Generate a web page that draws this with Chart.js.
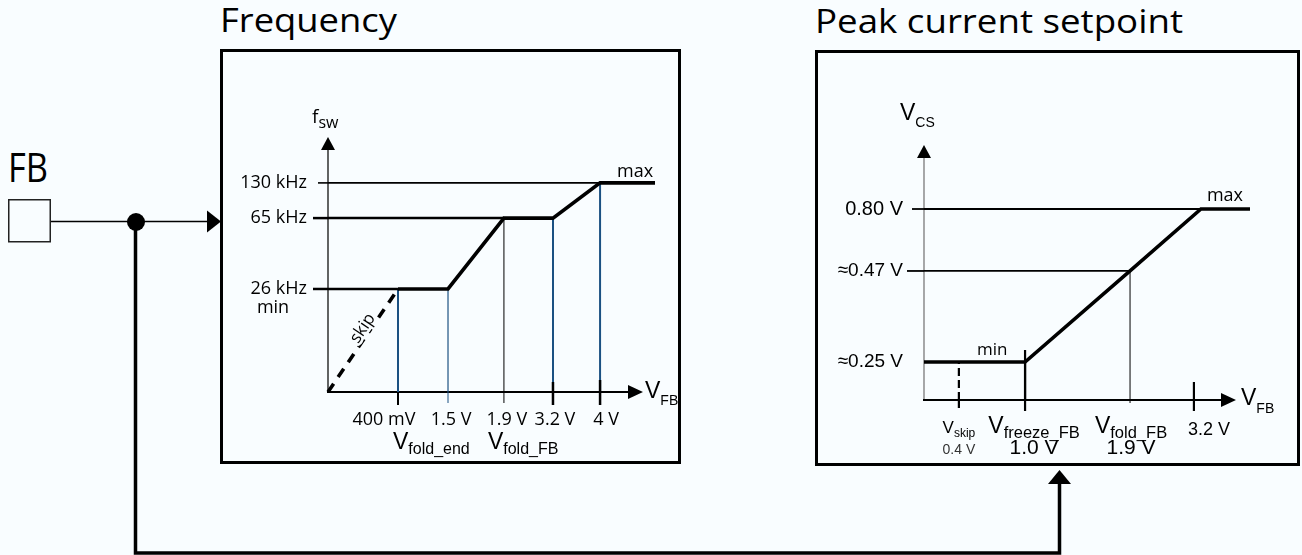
<!DOCTYPE html>
<html>
<head>
    <title>FB pin: switching frequency and peak current setpoint</title>
    <script src="https://cdn.jsdelivr.net/npm/chart.js@4/dist/chart.umd.min.js"></script>
    <style>
        body { margin: 0; background: #f9fdff; }
        #frame { position: absolute; left: 0; top: 0; }
        #frame text { font-family: "Open Sans", sans-serif; fill: #000; }
        .box { fill: none; stroke: #000; stroke-width: 3; }
        canvas { position: absolute; }
        #freq { left: 223px; top: 52px; }
        #vcs { left: 818px; top: 54px; }
    </style>
</head>
<body>
    <svg id="frame" width="1302" height="555">
        <text x="220" y="32" font-size="32" textLength="177" lengthAdjust="spacingAndGlyphs">Frequency</text>
        <text x="815" y="33" font-size="32" textLength="368" lengthAdjust="spacingAndGlyphs">Peak current setpoint</text>
        <text x="8" y="182" font-size="40" textLength="40" lengthAdjust="spacingAndGlyphs">FB</text>
        <rect x="8.75" y="199.75" width="41.5" height="42" fill="none" stroke="#222" stroke-width="1.5"/>
        <line x1="51" y1="221.5" x2="208" y2="221.5" stroke="#000" stroke-width="1.5"/>
        <circle cx="136" cy="222" r="9" fill="#000"/>
        <polygon points="207,210.5 221,221.5 207,232.5" fill="#000"/>
        <polyline points="135.5,222 135.5,553 1059.5,553 1059.5,482" fill="none" stroke="#000" stroke-width="3.5"/>
        <polygon points="1048,484 1059.5,470 1071,484" fill="#000"/>
        <rect class="box" x="221.5" y="50.5" width="458" height="412"/>
        <rect class="box" x="816.5" y="51.5" width="482" height="413"/>
    </svg>
    <canvas id="freq" width="455" height="409"></canvas>
    <canvas id="vcs" width="479" height="409"></canvas>

    <script>
        // --- frequency vs V_FB ---
        const vfbTicks = [0.4, 1.5, 1.9, 3.2, 4];                 // V
        const vfbTickLabels = ['400 mV', '1.5 V', '1.9 V', '3.2 V', '4 V'];
        const vfbNames = [null, ['V', 'fold_end'], ['V', 'fold_FB'], null, null];
        const fswTicks = [26, 65, 130];                           // kHz
        const fswTickLabels = ['26 kHz', '65 kHz', '130 kHz'];
        const fswCurveV = [0.4, 1.5, 1.9, 3.2, 4, 5];
        const fswCurveKHz = [26, 26, 65, 65, 130, 130];
        const skipV = [0, 0.4];
        const skipKHz = [0, 26];
        const fswLeaderEndV = [0.4, 1.9, 4];
        const vfbDropKHz = [26, 26, 65, 65, 130];

        // --- peak current (V_CS) vs V_FB ---
        const csVfbTicks = [0.4, 1.0, 1.9, 3.2];                  // V
        const csVfbTickLabels = ['0.4 V', '1.0 V', '1.9 V', '3.2 V'];
        const csVfbNames = [['V', 'skip'], ['V', 'freeze_FB'], ['V', 'fold_FB'], null];
        const csTicks = [0.25, 0.47, 0.8];                        // V
        const csTickLabels = ['\u22480.25 V', '\u22480.47 V', '0.80 V'];
        const csCurveV = [0, 1.0, 1.9, 3.3, 4];
        const csCurveVcs = [0.25, 0.25, 0.47, 0.8, 0.8];
        const csLeaderLevels = [0.47, 0.8];
        const csLeaderEndV = [1.9, 3.3];
        const csDropV = [0.4, 1.0, 1.9];
        const csDropVcs = [0.25, 0.25, 0.47];

        const OS = '"Open Sans", sans-serif';
        const LS = '"Liberation Sans", Arial, sans-serif';
        const BLUE = '#1b5182';

        // piecewise linear axis: the plot is a sketch, so each breakpoint
        // gets its own spot along the axis instead of a uniform spacing
        function toFraction(stops, v) {
            let i = 1;
            while (i < stops.length - 1 && v > stops[i][0]) i++;
            const [v0, f0] = stops[i - 1], [v1, f1] = stops[i];
            return f0 + (v - v0) * (f1 - f0) / (v1 - v0);
        }
        function fromFraction(stops, f) {
            let i = 1;
            while (i < stops.length - 1 && f > stops[i][1]) i++;
            const [v0, f0] = stops[i - 1], [v1, f1] = stops[i];
            return v0 + (f - f0) * (v1 - v0) / (f1 - f0);
        }
        class SchematicScale extends Chart.LinearScale {
            getPixelForValue(value) {
                if (value === null || value === undefined) return NaN;
                return this.getPixelForDecimal(toFraction(this.options.stops, value));
            }
            getValueForPixel(pixel) {
                return fromFraction(this.options.stops, this.getDecimalForPixel(pixel));
            }
        }
        SchematicScale.id = 'schematic';
        Chart.register(SchematicScale);

        function seg(xs, ys, color, width, dash) {
            return {
                data: xs.map((x, i) => ({ x: x, y: ys[i] })),
                borderColor: color,
                borderWidth: width,
                borderDash: dash || [],
                borderJoinStyle: 'miter',
                borderCapStyle: 'butt',
                pointRadius: 0,
                fill: false,
                clip: false
            };
        }

        function line(ctx, x1, y1, x2, y2, w, color, dash) {
            ctx.save();
            ctx.beginPath();
            ctx.lineWidth = w;
            ctx.strokeStyle = color || '#000';
            ctx.setLineDash(dash || []);
            ctx.moveTo(x1, y1);
            ctx.lineTo(x2, y2);
            ctx.stroke();
            ctx.restore();
        }
        function arrowUp(ctx, x, tip, half, len) {
            ctx.beginPath();
            ctx.moveTo(x, tip);
            ctx.lineTo(x + half, tip + len);
            ctx.lineTo(x - half, tip + len);
            ctx.closePath();
            ctx.fillStyle = '#000';
            ctx.fill();
        }
        function arrowRight(ctx, tip, y, half, len) {
            ctx.beginPath();
            ctx.moveTo(tip, y);
            ctx.lineTo(tip - len, y - half);
            ctx.lineTo(tip - len, y + half);
            ctx.closePath();
            ctx.fillStyle = '#000';
            ctx.fill();
        }
        // text made of pieces, e.g. V + lowered subscript; y is the main baseline
        function label(ctx, x, y, parts, align, color) {
            let w = 0;
            parts.forEach(p => { ctx.font = p.font; w += ctx.measureText(p.t).width; });
            let cx = align === 'center' ? x - w / 2 : (align === 'right' ? x - w : x);
            ctx.textAlign = 'left';
            ctx.textBaseline = 'alphabetic';
            ctx.fillStyle = color || '#000';
            parts.forEach(p => {
                ctx.font = p.font;
                ctx.fillText(p.t, cx, y + (p.dy || 0));
                cx += ctx.measureText(p.t).width;
            });
        }
        function text(ctx, s, x, y, font, align, color) {
            ctx.font = font;
            ctx.textAlign = align;
            ctx.textBaseline = 'middle';
            ctx.fillStyle = color || '#000';
            ctx.fillText(s, x, y);
        }

        const baseOptions = {
            responsive: false,
            animation: false,
            events: [],
            plugins: { legend: { display: false }, tooltip: { enabled: false } }
        };

        // frequency chart decorations: axes, arrows, ticks and labels
        const freqDecor = {
            id: 'freqDecor',
            beforeDatasetsDraw(chart) {
                const { ctx, chartArea: area, scales: { x, y } } = chart;
                const x0 = x.getPixelForValue(0), y0 = y.getPixelForValue(0);
                line(ctx, x0, y0, x0, area.top + 12, 1.4, '#222');
                arrowUp(ctx, x0, area.top, 7, 13);
                line(ctx, x0 - 1, y0, area.right - 25, y0, 2.2);
                arrowRight(ctx, area.right - 12, y0, 7, 15);
                const stub = [15, 15, 10], stubW = [2.5, 2.5, 1.6];
                fswTicks.forEach((v, i) => {
                    const py = y.getPixelForValue(v);
                    line(ctx, x0 - stub[i], py, x0, py, stubW[i]);
                });
            },
            afterDatasetsDraw(chart) {
                const { ctx, chartArea: area, scales: { x, y } } = chart;
                const x0 = x.getPixelForValue(0), y0 = y.getPixelForValue(0);
                // tick marks on the V_FB axis
                const up = [0, 0, 0, 10, 12], down = [13, 11, 11, 13, 13];
                const tw = [2, 1, 1, 2.5, 2.5], tc = ['#000', BLUE, '#000', '#000', '#000'];
                vfbTicks.forEach((v, i) => {
                    const px = x.getPixelForValue(v);
                    line(ctx, px, y0 - up[i], px, y0 + down[i], tw[i], tc[i]);
                });

                fswTicks.forEach((v, i) => text(ctx, fswTickLabels[i], x0 - 21, y.getPixelForValue(v), '18px ' + OS, 'right'));
                text(ctx, 'min', x0 - 55, y.getPixelForValue(26) + 19, '18px ' + OS, 'center');
                text(ctx, 'max', x.getPixelForValue(4) + 17, y.getPixelForValue(130) - 11, '18px ' + OS, 'left');

                const dx = [-14, 3, 3, 2, 6], nameDx = [0, -55, -16, 0, 0];
                vfbTicks.forEach((v, i) => {
                    const px = x.getPixelForValue(v);
                    text(ctx, vfbTickLabels[i], px + dx[i], y0 + 28, '18px ' + OS, 'center');
                    if (vfbNames[i]) {
                        label(ctx, px + nameDx[i], y0 + 57, [
                            { t: vfbNames[i][0], font: '23px ' + LS },
                            { t: vfbNames[i][1], font: '16px ' + LS, dy: 5 }
                        ], 'left');
                    }
                });

                label(ctx, x0 - 16, area.top - 14, [
                    { t: 'f', font: '19px ' + OS },
                    { t: 'sw', font: '16px ' + OS, dy: 5 }
                ], 'left');
                label(ctx, area.right - 10, y0 + 6, [
                    { t: 'V', font: '23px ' + LS },
                    { t: 'FB', font: '14px ' + LS, dy: 7 }
                ], 'left');

                // "skip" written along the dashed ramp
                const ax = x.getPixelForValue(skipV[0]), ay = y.getPixelForValue(skipKHz[0]);
                const bx = x.getPixelForValue(skipV[1]), by = y.getPixelForValue(skipKHz[1]);
                const t = 0.58;
                ctx.save();
                ctx.translate(ax + (bx - ax) * t, ay + (by - ay) * t);
                ctx.rotate(Math.atan2(by - ay, bx - ax));
                ctx.font = '17px ' + OS;
                ctx.textAlign = 'center';
                ctx.textBaseline = 'middle';
                ctx.lineWidth = 5;
                ctx.strokeStyle = '#f9fdff';
                ctx.strokeText('skip', 0, -7);
                ctx.fillStyle = '#000';
                ctx.fillText('skip', 0, -7);
                ctx.restore();
            }
        };

        new Chart(document.getElementById('freq'), {
            type: 'line',
            data: {
                datasets: [
                    seg(fswCurveV, fswCurveKHz, '#000', 3.6),
                    seg(skipV, skipKHz, '#000', 3.6, [10, 8]),
                    ...fswTicks.map((f, i) => seg([0, fswLeaderEndV[i]], [f, f], '#000', [2.5, 2.5, 1.6][i])),
                    ...vfbTicks.map((v, i) => seg([v, v], [0, vfbDropKHz[i]],
                        [BLUE, BLUE, '#000', BLUE, BLUE][i], [2, 1.2, 1, 2, 2][i]))
                ]
            },
            options: Object.assign({}, baseOptions, {
                layout: { padding: { left: 105, right: 23, top: 85, bottom: 69 } },
                scales: {
                    x: { type: 'schematic', display: false, min: 0, max: 5,
                         stops: [[0, 0], [0.4, 0.214], [1.5, 0.367], [1.9, 0.538], [3.2, 0.688], [4, 0.832], [5, 1]] },
                    y: { type: 'schematic', display: false, min: 0, max: 160,
                         stops: [[0, 0], [26, 0.404], [65, 0.682], [130, 0.82], [160, 1]] }
                }
            }),
            plugins: [freqDecor]
        });

        // peak current chart decorations
        const csDecor = {
            id: 'csDecor',
            beforeDatasetsDraw(chart) {
                const { ctx, chartArea: area, scales: { x, y } } = chart;
                const x0 = x.getPixelForValue(0), y0 = y.getPixelForValue(0);
                line(ctx, x0, y0, x0, area.top + 12, 1.3, '#7a7a7a');
                arrowUp(ctx, x0, area.top, 7, 13);
                line(ctx, x0 - 1, y0, area.right - 26, y0, 2);
                arrowRight(ctx, area.right - 14, y0, 7, 15);
                const stub = [17, 12];
                csLeaderLevels.forEach((v, i) => {
                    const py = y.getPixelForValue(v);
                    line(ctx, x0 - stub[i], py, x0, py, 1.8);
                });
            },
            afterDatasetsDraw(chart) {
                const { ctx, chartArea: area, scales: { x, y } } = chart;
                const x0 = x.getPixelForValue(0), y0 = y.getPixelForValue(0);
                const up = [0, 50, 0, 18], down = [11, 11, 3, 11], tw = [2.2, 2.2, 1, 2.2];
                csVfbTicks.forEach((v, i) => {
                    const px = x.getPixelForValue(v);
                    line(ctx, px, y0 - up[i], px, y0 + down[i], tw[i], '#000', i === 0 ? [8, 4] : []);
                });

                csTicks.forEach((v, i) => text(ctx, csTickLabels[i], x0 - 21, y.getPixelForValue(v), (i === 2 ? '20px ' : '19px ') + LS, 'right'));
                text(ctx, 'max', x.getPixelForValue(3.3) + 6, y.getPixelForValue(0.8) - 13, '18px ' + OS, 'left');
                text(ctx, 'min', x.getPixelForValue(1.0) - 48, y.getPixelForValue(0.25) - 12, '17px ' + OS, 'left');

                label(ctx, x0 - 24, area.top - 25, [
                    { t: 'V', font: '23px ' + LS },
                    { t: 'CS', font: '14px ' + LS, dy: 7 }
                ], 'left');
                label(ctx, area.right - 9, y0 + 5, [
                    { t: 'V', font: '23px ' + LS },
                    { t: 'FB', font: '14px ' + LS, dy: 8 }
                ], 'left');

                const dx = [0, 9, 1, 15];
                csVfbTicks.forEach((v, i) => {
                    const px = x.getPixelForValue(v) + dx[i];
                    if (i === 0) {
                        label(ctx, px, y0 + 33, [
                            { t: 'V', font: '17px ' + LS },
                            { t: 'skip', font: '12px ' + LS, dy: 4 }
                        ], 'center');
                        text(ctx, csVfbTickLabels[i], px, y0 + 50, '14px ' + LS, 'center', '#333');
                    } else if (csVfbNames[i]) {
                        label(ctx, px, y0 + 33, [
                            { t: csVfbNames[i][0], font: '23px ' + LS },
                            { t: csVfbNames[i][1], font: '16.5px ' + LS, dy: 5 }
                        ], 'center');
                        text(ctx, csVfbTickLabels[i], px, y0 + 48, '21px ' + LS, 'center');
                    } else {
                        text(ctx, csVfbTickLabels[i], px, y0 + 30, '18px ' + LS, 'center');
                    }
                });
            }
        };

        new Chart(document.getElementById('vcs'), {
            type: 'line',
            data: {
                datasets: [
                    seg(csCurveV, csCurveVcs, '#000', 3.6),
                    ...csLeaderLevels.map((v, i) => seg([0, csLeaderEndV[i]], [v, v], '#000', 1.8)),
                    ...csDropV.map((v, i) => seg([v, v], [0, csDropVcs[i]], '#000', [2.2, 2.2, 1][i], i === 0 ? [8, 4] : []))
                ]
            },
            options: Object.assign({}, baseOptions, {
                layout: { padding: { left: 106, right: 47, top: 91, bottom: 63 } },
                scales: {
                    x: { type: 'schematic', display: false, min: 0, max: 4,
                         stops: [[0, 0], [0.4, 0.107], [1.0, 0.31], [1.9, 0.632], [3.2, 0.828], [4, 1]] },
                    y: { type: 'schematic', display: false, min: 0, max: 1,
                         stops: [[0, 0], [0.25, 0.149], [0.47, 0.506], [0.8, 0.749], [1.0, 1]] }
                }
            }),
            plugins: [csDecor]
        });
    </script>
</body>
</html>
